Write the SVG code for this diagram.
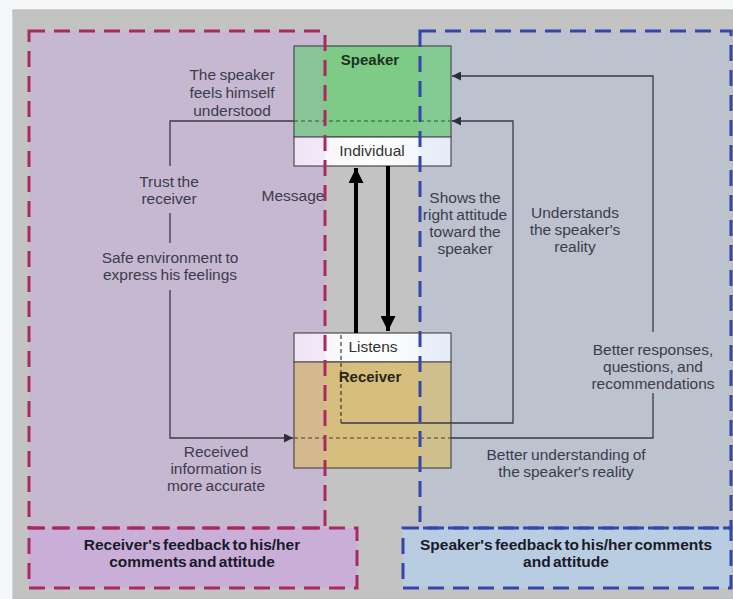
<svg xmlns="http://www.w3.org/2000/svg" width="733" height="599" viewBox="0 0 733 599">
  <defs>
    <marker id="tip" viewBox="0 0 10 10" refX="10" refY="5" markerWidth="9" markerHeight="9" markerUnits="userSpaceOnUse" orient="auto">
      <path d="M0,0 L10,5 L0,10 z" fill="#2e2e3a"/>
    </marker>
    <marker id="bigtip" viewBox="0 0 10 10" refX="10" refY="5" markerWidth="15" markerHeight="15" markerUnits="userSpaceOnUse" orient="auto">
      <path d="M0,0 L10,5 L0,10 z" fill="#000"/>
    </marker>
    <linearGradient id="paper" x1="0" y1="0" x2="1" y2="0">
      <stop offset="0" stop-color="#f4f0f8"/>
      <stop offset="0.5" stop-color="#ffffff"/>
      <stop offset="1" stop-color="#eef2fa"/>
    </linearGradient>
  </defs>
  <style>
    text { font-family: "Liberation Sans", Arial, sans-serif; }
    .lbl { font-size: 15.5px; fill: #3c3c4c; text-anchor: middle; word-spacing: -1px; }
    .hdr { font-size: 15.5px; font-weight: bold; fill: #1a1a2a; text-anchor: middle; word-spacing: -2px; }
    .box { stroke: #4a4a4a; stroke-width: 1.2; }
    .wire { fill: none; stroke: #3a3a46; stroke-width: 1.3; }
    .dots { fill: none; stroke-width: 1.2; stroke-dasharray: 4 3; }
    .pink { fill: none; stroke: #a82a5e; stroke-width: 3; stroke-dasharray: 16 9; }
    .blue { fill: none; stroke: #3446aa; stroke-width: 3; stroke-dasharray: 16 9; }
    .thick { stroke: #000; stroke-width: 4; }
    .tintP { fill: rgb(205,158,242); fill-opacity: 0.14; }
    .tintB { fill: rgb(172,195,235); fill-opacity: 0.14; }
  </style>

  <!-- page -->
  <rect x="0" y="0" width="733" height="599" fill="#f4f6f8"/>
  <rect x="13" y="10" width="720" height="589" fill="#c3c3c3" stroke="#b4b8bc" stroke-width="1"/>

  <!-- feedback areas -->
  <g id="receiver-feedback">
    <rect x="29" y="31" width="296" height="497" fill="#c6b8d1"/>
    <rect x="29" y="528" width="328" height="60" fill="#c9afd8"/>
  </g>
  <g id="speaker-feedback">
    <rect x="420" y="31" width="311" height="497" fill="#bcc3cf"/>
    <rect x="403" y="528" width="328" height="60" fill="#b8cde1"/>
  </g>

  <!-- nodes -->
  <g id="speaker">
    <rect class="box" x="294" y="46" width="157" height="91" fill="#7ecb88"/>
    <rect class="box" x="294" y="137" width="157" height="29" fill="url(#paper)"/>
    <rect class="tintP" x="294.6" y="46.6" width="30.4" height="118.8"/>
    <rect class="tintB" x="420" y="46.6" width="30.4" height="118.8"/>
  </g>
  <g id="receiver">
    <rect class="box" x="294" y="333" width="157" height="29" fill="url(#paper)"/>
    <rect class="box" x="294" y="362" width="157" height="106" fill="#d6be7e"/>
    <rect class="tintP" x="294.6" y="333.6" width="30.4" height="133.8"/>
    <rect class="tintB" x="420" y="333.6" width="30.4" height="133.8"/>
  </g>

  <!-- connectors -->
  <g id="connectors">
    <line class="thick" x1="356" y1="333" x2="356" y2="168" marker-end="url(#bigtip)"/>
    <line class="thick" x1="388" y1="166" x2="388" y2="331" marker-end="url(#bigtip)"/>

    <!-- receiver loop -->
    <path class="wire" d="M294,121 H170 V166"/>
    <path class="wire" d="M170,213 V243"/>
    <path class="wire" d="M170,290 V438 H293" marker-end="url(#tip)"/>

    <!-- speaker loops -->
    <path class="wire" d="M451,438 H653 V393"/>
    <path class="wire" d="M653,332 V76 H452" marker-end="url(#tip)"/>
    <path class="wire" d="M341,423 H513 V121 H452" marker-end="url(#tip)"/>

    <!-- pass-through lines inside the boxes -->
    <line class="dots" x1="294" y1="121" x2="451" y2="121" stroke="#2a5a2c"/>
    <line class="dots" x1="294" y1="438" x2="451" y2="438" stroke="#4a4030"/>
    <line class="dots" x1="341" y1="335" x2="341" y2="423" stroke="#3a3a30"/>
  </g>

  <!-- dashed borders -->
  <g id="borders">
    <rect class="pink" x="29" y="31" width="296" height="497"/>
    <rect class="pink" x="29" y="528" width="328" height="60"/>
    <rect class="blue" x="420" y="31" width="311" height="497"/>
    <rect class="blue" x="403" y="528" width="328" height="60"/>
  </g>

  <!-- box labels -->
  <g id="box-labels">
    <text x="370" y="65" font-size="15" font-weight="bold" fill="#1c321e" text-anchor="middle">Speaker</text>
    <text x="372" y="156" font-size="15.5" fill="#333" text-anchor="middle">Individual</text>
    <text x="373" y="352" font-size="15.5" fill="#333" text-anchor="middle">Listens</text>
    <text x="370" y="382" font-size="15" font-weight="bold" fill="#2a2616" text-anchor="middle">Receiver</text>
  </g>

  <!-- connector labels -->
  <g id="labels">
    <text class="lbl" x="232" y="80">The speaker</text>
    <text class="lbl" x="232" y="98">feels himself</text>
    <text class="lbl" x="232" y="116">understood</text>

    <text class="lbl" x="169" y="187">Trust the</text>
    <text class="lbl" x="169" y="204">receiver</text>

    <text class="lbl" x="170" y="263">Safe environment to</text>
    <text class="lbl" x="170" y="280">express his feelings</text>

    <text class="lbl" x="293" y="201">Message</text>

    <text class="lbl" x="216" y="457">Received</text>
    <text class="lbl" x="216" y="474">information is</text>
    <text class="lbl" x="216" y="491">more accurate</text>

    <text class="lbl" x="465" y="203">Shows the</text>
    <text class="lbl" x="465" y="220">right attitude</text>
    <text class="lbl" x="465" y="237">toward the</text>
    <text class="lbl" x="465" y="254">speaker</text>

    <text class="lbl" x="575" y="218">Understands</text>
    <text class="lbl" x="575" y="235">the speaker's</text>
    <text class="lbl" x="575" y="252">reality</text>

    <text class="lbl" x="653" y="355">Better responses,</text>
    <text class="lbl" x="653" y="372">questions, and</text>
    <text class="lbl" x="653" y="389">recommendations</text>

    <text class="lbl" x="566" y="460">Better understanding of</text>
    <text class="lbl" x="566" y="477">the speaker's reality</text>

    <text class="hdr" x="192" y="550">Receiver's feedback to his/her</text>
    <text class="hdr" x="192" y="567">comments and attitude</text>

    <text class="hdr" x="566" y="550">Speaker's feedback to his/her  comments</text>
    <text class="hdr" x="566" y="567">and attitude</text>
  </g>
</svg>
